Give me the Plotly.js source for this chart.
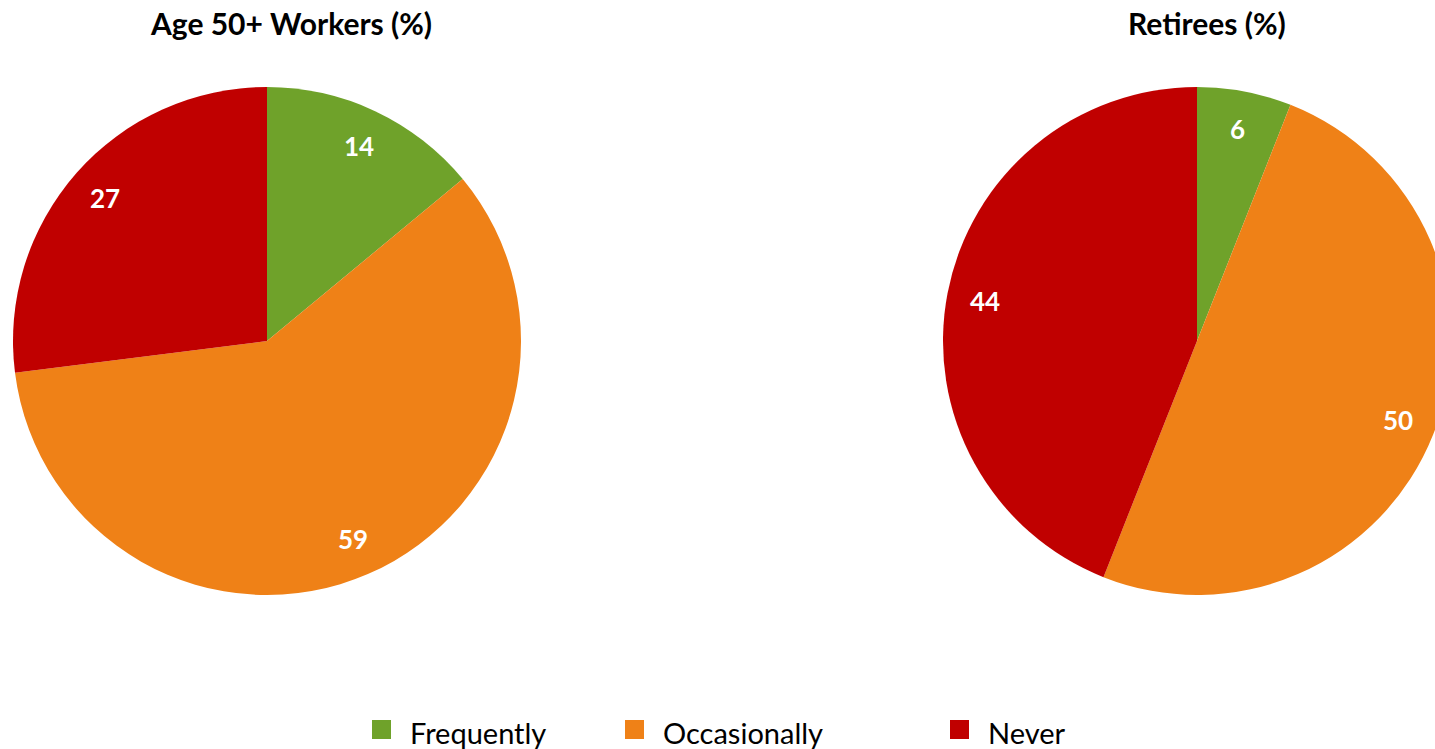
<!DOCTYPE html>
<html><head><meta charset="utf-8">
<script src="https://cdn.plot.ly/plotly-3.0.1.min.js"></script>
<style>html,body{margin:0;padding:0;overflow:hidden;background:#fff;width:1435px;height:749px}#chart{width:1460px;height:749px}</style>
</head><body><div id="chart"></div>
<script>
const categories = ['Frequently', 'Occasionally', 'Never'];
const workers = [14, 59, 27];
const retirees = [6, 50, 44];
const chartTitles = ['Age 50+ Workers (%)', 'Retirees (%)'];
const colors = ['#6FA22A', '#EF8117', '#C00000'];

const W = 1460, H = 749;
const FONT = 'Lato, sans-serif';
const domains = [
  {x: [13 / W, 521 / W], y: [154 / H, 662 / H]},
  {x: [943 / W, 1451 / W], y: [154 / H, 662 / H]}
];
const series = [workers, retirees];

const traces = series.map((vals, i) => ({
  type: 'pie',
  labels: categories,
  values: vals,
  sort: false,
  direction: 'clockwise',
  rotation: 0,
  domain: domains[i],
  marker: {colors: colors, line: {width: 0}},
  textinfo: 'none',
  hoverinfo: 'label+value',
  showlegend: false
}));

const annotations = [];
const shapes = [];
// value labels inside each slice, computed from the data
series.forEach((vals, i) => {
  const total = vals.reduce((a, b) => a + b, 0);
  const d = domains[i];
  const cx = (d.x[0] + d.x[1]) / 2 * W;
  const cy = (d.y[0] + d.y[1]) / 2 * H;
  const R = Math.min((d.x[1] - d.x[0]) * W, (d.y[1] - d.y[0]) * H) / 2;
  let cum = 0;
  vals.forEach(v => {
    const mid = (cum + v / 2) / total * 2 * Math.PI;
    cum += v;
    const r = R * 0.85;
    annotations.push({
      xref: 'paper', yref: 'paper',
      x: (cx + r * Math.sin(mid)) / W,
      y: (cy + r * Math.cos(mid)) / H,
      text: '<b>' + v + '</b>', showarrow: false,
      xanchor: 'center', yanchor: 'middle',
      font: {family: FONT, size: 26, color: '#ffffff'}
    });
  });
});
// chart titles
const titleX = [291, 1206.5];
chartTitles.forEach((t, i) => {
  annotations.push({
    xref: 'paper', yref: 'paper', x: titleX[i] / W, y: 1 - 23 / H,
    xanchor: 'center', yanchor: 'middle', showarrow: false,
    text: '<b>' + t + '</b>',
    font: {family: FONT, size: 30, color: '#000000'}
  });
});
// legend (squares + labels)
const legendSquareX = [372, 625, 950];
const SQ = 19, legendY = 729.5;
categories.forEach((c, i) => {
  const x0 = legendSquareX[i];
  shapes.push({
    type: 'rect', xref: 'paper', yref: 'paper',
    x0: x0 / W, x1: (x0 + SQ) / W,
    y0: 1 - (legendY + SQ / 2) / H, y1: 1 - (legendY - SQ / 2) / H,
    fillcolor: colors[i], line: {width: 0}
  });
  annotations.push({
    xref: 'paper', yref: 'paper', x: (x0 + 36) / W, y: 1 - (legendY + 3) / H,
    xanchor: 'left', yanchor: 'middle', showarrow: false,
    text: c, font: {family: FONT, size: 29, color: '#000000'}
  });
});

const layout = {
  width: W, height: H,
  margin: {l: 0, r: 0, t: 0, b: 0, autoexpand: false},
  paper_bgcolor: '#ffffff',
  showlegend: false,
  annotations: annotations,
  shapes: shapes
};
Plotly.newPlot('chart', traces, layout, {displayModeBar: false, staticPlot: true});
</script></body></html>
